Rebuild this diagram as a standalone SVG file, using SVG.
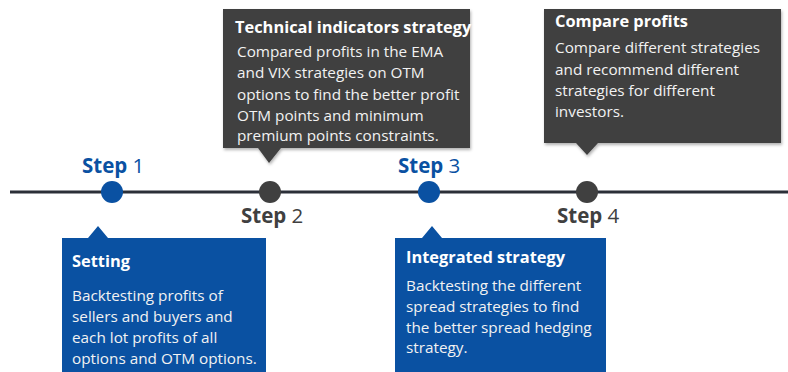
<svg xmlns="http://www.w3.org/2000/svg" width="788" height="372" viewBox="0 0 788 372">
<defs>
<style>
.blue{fill:#0a51a2}
.dark{fill:#404040}
.step{font-family:"Open Sans","Noto Sans",sans-serif;font-size:20.5px;font-weight:bold}
.step tspan{font-weight:normal}
.title{font-family:"Open Sans","Noto Sans",sans-serif;font-size:16.4px;font-weight:bold;fill:#ffffff}
.body{font-family:"Open Sans","Noto Sans",sans-serif;font-size:15.3px;fill:#f2f2f2}
</style>
<filter id="sh" x="-5%" y="-5%" width="115%" height="120%">
<feDropShadow dx="1" dy="2" stdDeviation="1.5" flood-color="#000" flood-opacity="0.3"/>
</filter>
</defs>
<rect width="788" height="372" fill="#ffffff"/>
<g id="connectors">
<line x1="10" y1="192" x2="788" y2="192" stroke="#2b2f38" stroke-width="3"/>
</g>
<g id="step1">
<circle cx="112" cy="192" r="11" class="blue"/>
<text x="82" y="173" class="step" fill="#0a51a2">Step <tspan>1</tspan></text>
</g>
<g id="step2">
<circle cx="270" cy="192" r="11" class="dark"/>
<text x="241" y="223" class="step" fill="#404040">Step <tspan>2</tspan></text>
</g>
<g id="step3">
<circle cx="429" cy="192" r="11" class="blue"/>
<text x="398" y="173" class="step" fill="#0a51a2">Step <tspan>3</tspan></text>
</g>
<g id="step4">
<circle cx="587" cy="192" r="11" class="dark"/>
<text x="557" y="223" class="step" fill="#404040">Step <tspan>4</tspan></text>
</g>
<g id="box-technical">
<path d="M223 9 H470 V148 H281 L269 163 L258 148 H223 Z" class="dark" filter="url(#sh)"/>
<text x="235" y="33" class="title">Technical indicators strategy</text>
<text class="body">
<tspan x="237" y="57">Compared profits in the EMA</tspan>
<tspan x="237" y="78">and VIX strategies on OTM</tspan>
<tspan x="237" y="99.5">options to find the better profit</tspan>
<tspan x="237" y="120.5">OTM points and minimum</tspan>
<tspan x="237" y="141">premium points constraints.</tspan>
</text>
</g>
<g id="box-compare">
<path d="M544 9 H781 V143 H598 L587 155 L576 143 H544 Z" class="dark" filter="url(#sh)"/>
<text x="555" y="27" class="title">Compare profits</text>
<text class="body">
<tspan x="555" y="53">Compare different strategies</tspan>
<tspan x="555" y="74.5">and recommend different</tspan>
<tspan x="555" y="96">strategies for different</tspan>
<tspan x="555" y="117">investors.</tspan>
</text>
</g>
<g id="box-setting">
<path d="M62 238 H88 L98 226 L108 238 H266 V372 H62 Z" class="blue"/>
<text x="72" y="267" class="title">Setting</text>
<text class="body">
<tspan x="72" y="301">Backtesting profits of</tspan>
<tspan x="72" y="322">sellers and buyers and</tspan>
<tspan x="72" y="343">each lot profits of all</tspan>
<tspan x="72" y="364">options and OTM options.</tspan>
</text>
</g>
<g id="box-integrated">
<path d="M395 238 H422 L432 226 L442 238 H606 V372 H395 Z" class="blue"/>
<text x="406" y="263" class="title">Integrated strategy</text>
<text class="body">
<tspan x="406" y="291">Backtesting the different</tspan>
<tspan x="406" y="312">spread strategies to find</tspan>
<tspan x="406" y="333">the better spread hedging</tspan>
<tspan x="406" y="353">strategy.</tspan>
</text>
</g>
</svg>
